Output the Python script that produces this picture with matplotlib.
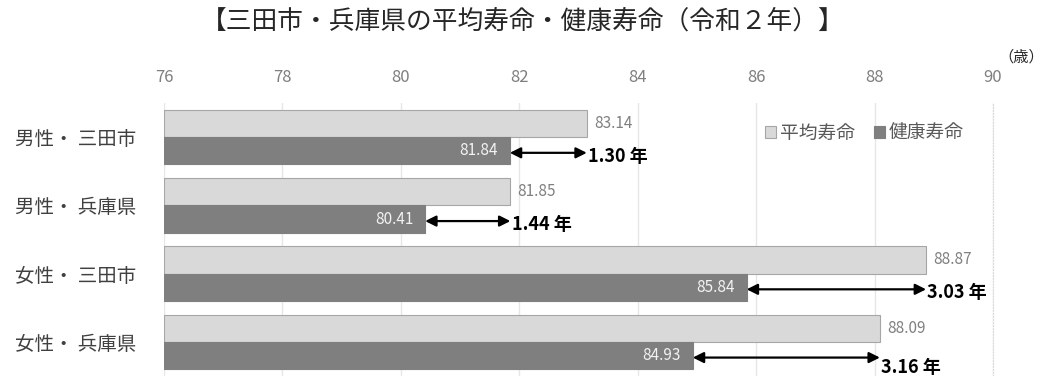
import matplotlib
matplotlib.use('Agg')
import matplotlib.pyplot as plt
import numpy as np

plt.rcParams['font.family'] = ['Noto Sans CJK JP', 'DejaVu Sans']

# data
categories = ['男性・ 三田市', '男性・ 兵庫県', '女性・ 三田市', '女性・ 兵庫県']
heikin = [83.14, 81.85, 88.87, 88.09]
kenko = [81.84, 80.41, 85.84, 84.93]
series_names = ['平均寿命', '健康寿命']
xticks = [76, 78, 80, 82, 84, 86, 88, 90]

fig = plt.figure(figsize=(10.45, 3.76), dpi=100)
ax = fig.add_axes([164 / 1045, 0.0, (993 - 164) / 1045, 1 - 103 / 376])

y = np.arange(len(categories))
h = 0.4
ax.barh(y - h / 2, [v - 76 for v in heikin], left=76, height=h,
        color='#d9d9d9', edgecolor='#a6a6a6', linewidth=0.8,
        label=series_names[0], zorder=2)
ax.barh(y + h / 2, [v - 76 for v in kenko], left=76, height=h,
        color='#7f7f7f', edgecolor='#7f7f7f', linewidth=0.8,
        label=series_names[1], zorder=3)

for i in range(len(categories)):
    ax.text(heikin[i] + 0.12, y[i] - h / 2, f'{heikin[i]:.2f}', va='center',
            ha='left', fontsize=11, color='#808080')
    ax.text(kenko[i] - 0.2, y[i] + h / 2, f'{kenko[i]:.2f}', va='center',
            ha='right', fontsize=11, color='#f2f2f2', zorder=4)

    # gap between the two bars
    ya = y[i] + h / 2 + 0.03
    ax.annotate('', xy=(heikin[i], ya), xytext=(kenko[i], ya),
                arrowprops=dict(arrowstyle='<|-|>', color='black', lw=1.6,
                                mutation_scale=16, shrinkA=0, shrinkB=0),
                zorder=5)
    dy = 0.14 if i == 3 else 0.05
    ax.text(heikin[i] + 0.02, ya + dy, f'{heikin[i] - kenko[i]:.2f} 年',
            va='center', ha='left', fontsize=13, fontweight='bold',
            color='black', zorder=5)

ax.set_xlim(76, 90)
ax.set_ylim(len(categories) - 0.5, -0.5)
ax.set_xticks(xticks)
ax.xaxis.tick_top()
ax.tick_params(axis='x', length=0, labelsize=12, labelcolor='#7f7f7f', pad=12)
ax.set_yticks(y)
ax.set_yticklabels(categories)
ax.tick_params(axis='y', length=0, labelsize=14, labelcolor='#404040', pad=20)
ax.grid(axis='x', color='#e6e6e6', linewidth=1, zorder=0)
ax.set_axisbelow(True)
for s in ['top', 'bottom', 'left']:
    ax.spines[s].set_visible(False)
ax.spines['right'].set_color('#d9d9d9')
ax.spines['right'].set_linestyle(':')

ax.legend(loc='upper right', bbox_to_anchor=(0.985, 0.99), frameon=False,
          fontsize=13.5, ncol=2, handlelength=0.6, handleheight=0.6,
          handletextpad=0.2, columnspacing=1.0, labelcolor='#595959')

fig.text(0.5, 1 - 22 / 376, '【三田市・兵庫県の平均寿命・健康寿命（令和２年）】',
         ha='center', va='center', fontsize=18.5, color='#262626')
fig.text(0.977, 1 - 57 / 376, '（歳）', ha='center', va='center',
         fontsize=11, color='#262626')

fig.savefig('out.png', dpi=100)
